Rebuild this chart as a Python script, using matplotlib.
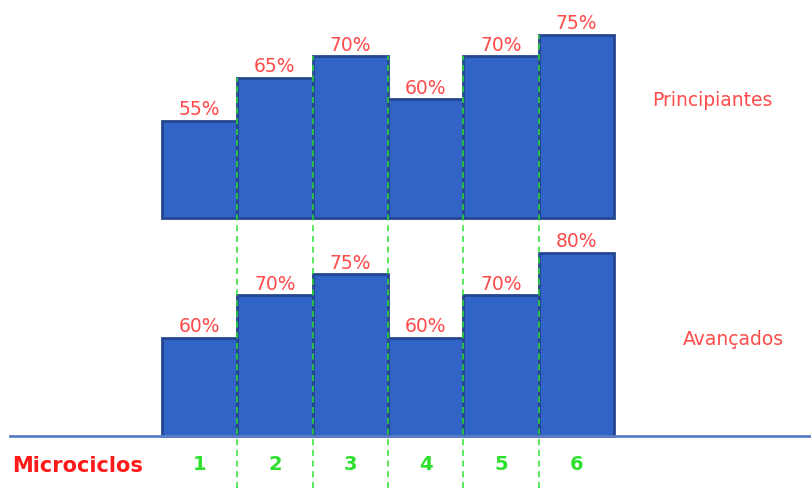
import matplotlib
matplotlib.use("Agg")
import matplotlib.pyplot as plt
from matplotlib.lines import Line2D

# ---- data ----
microciclos = ["1", "2", "3", "4", "5", "6"]
principiantes = [55, 65, 70, 60, 70, 75]
avancados = [60, 70, 75, 60, 70, 80]
group_labels = ["Principiantes", "Avançados"]
axis_title = "Microciclos"

# ---- style ----
W, H = 812, 488
DPI = 100
bar_fill = "#3264c8"
bar_edge = "#24478f"
pct_color = "#ff4a4a"
green = "#2ee02e"
red = "#ff1a1a"
base_color = "#5b7fc7"
font = ["DejaVu Sans"]

fig = plt.figure(figsize=(W / DPI, H / DPI), dpi=DPI)

x_left_px, bar_w_px = 162, 75.33
xlim = (0.5 - x_left_px / bar_w_px, 0.5 + (W - x_left_px) / bar_w_px)


def make_axes(base_px, ymin, px_per_unit, ymax):
    top_px = base_px - px_per_unit * (ymax - ymin)
    ax = fig.add_axes([0, (H - base_px) / H, 1, (base_px - top_px) / H])
    ax.set_xlim(*xlim)
    ax.set_ylim(ymin, ymax)
    ax.axis("off")
    return ax


rows = [
    dict(vals=principiantes, name=group_labels[0], base_px=218, ymin=32.4,
         ppu=4.3, ymax=82, name_x=7.80, name_y=59.8),
    dict(vals=avancados, name=group_labels[1], base_px=436, ymin=36.9,
         ppu=4.25, ymax=86, name_x=8.08, name_y=59.5),
]

xs = list(range(1, len(microciclos) + 1))
axes = []
for r in rows:
    ax = make_axes(r["base_px"], r["ymin"], r["ppu"], r["ymax"])
    axes.append(ax)
    base = r["ymin"]
    ax.bar(xs, [v - base for v in r["vals"]], bottom=base, width=1.0,
           color=bar_fill, edgecolor=bar_edge, linewidth=2, zorder=2,
           clip_on=False)
    for x, v in zip(xs, r["vals"]):
        ax.annotate(f"{v}%", (x, v), xytext=(0, 1), textcoords="offset points",
                    ha="center", va="bottom", fontsize=13.5, color=pct_color,
                    family=font, zorder=4)
    ax.text(r["name_x"], r["name_y"], r["name"], ha="center", va="center",
            fontsize=13.5, color=pct_color, family=font)

ax_top, ax_bot = axes
inv = fig.transFigure.inverted()

# green dashed separators crossing both rows
for i in range(1, len(xs)):
    xb = i + 0.5
    top_v = max(principiantes[i - 1], principiantes[i])
    fx, fy = inv.transform(ax_top.transData.transform((xb, top_v)))
    fig.add_artist(Line2D([fx, fx], [0, fy], color=green, lw=1.1,
                          linestyle=(0, (4, 3)), zorder=5))

# baseline of bottom row
_, fyb = inv.transform(ax_bot.transData.transform((0, rows[1]["ymin"])))
fig.add_artist(Line2D([10 / W, 1], [fyb, fyb], color=base_color, lw=2,
                      zorder=1))

# x labels
for x, lab in zip(xs, microciclos):
    fx, _ = inv.transform(ax_bot.transData.transform((x, rows[1]["ymin"])))
    fig.text(fx, (H - 464) / H, lab, ha="center", va="center", fontsize=14,
             fontweight="bold", color=green, family=font)

fig.text(12 / W, (H - 466) / H, axis_title, ha="left", va="center",
         fontsize=15, fontweight="bold", color=red, family=font)

fig.savefig("out.png", dpi=DPI, facecolor="white")
